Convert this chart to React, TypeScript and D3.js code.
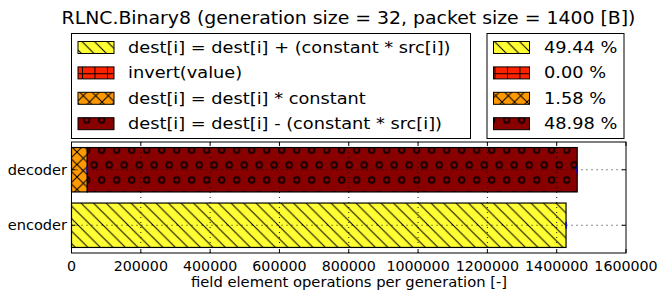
import * as d3 from 'd3';
import React, { useRef, useEffect } from 'react';

const categories = ['encoder', 'decoder'];
const seriesNames = [
  'dest[i] = dest[i] + (constant * src[i])',
  'invert(value)',
  'dest[i] = dest[i] * constant',
  'dest[i] = dest[i] - (constant * src[i])',
];
const seriesColors = ['#ffff33', '#ff2200', '#ff9900', '#880000'];
const seriesHatch = ['diag', 'plus', 'cross', 'circle'];
// values per category, one per series
const encoderValues = [1427000, 0, 0, 0];
const decoderValues = [0, 0, 45600, 1413600];
const encoderErrors = [700, 0, 0, 0];
const decoderErrors = [0, 0, 600, 1600];
const xTicks = [0, 200000, 400000, 600000, 800000, 1000000, 1200000, 1400000, 1600000];

const W = 660;
const H = 292;

export default function App() {
  const svgRef = useRef<SVGSVGElement>(null);

  useEffect(() => {
    const svg = d3.select(svgRef.current);
    svg.selectAll('*').remove();
    const font = 'DejaVu Sans, sans-serif';

    // text with a slight horizontal stretch (the reference font runs wide)
    const label = (sel: any, tx: number, ty: number, s: string, size: number, sx: number, anchor = 'start') =>
      sel.append('text').attr('transform', `translate(${tx},${ty}) scale(${sx},1)`)
        .attr('text-anchor', anchor).attr('font-family', font).attr('font-size', size).text(s);

    const left = 71.5, right = 626, top = 142, bottom = 253;
    const x = d3.scaleLinear().domain([0, 1600000]).range([left, right]);
    const y = d3.scaleLinear().domain([-0.5, 1.5]).range([bottom, top]);
    const barH = (y(0) - y(0.8));

    // hatch patterns
    const defs = svg.append('defs');
    const p = 12.5;
    const diag = defs.append('pattern').attr('id', 'diag').attr('patternUnits', 'userSpaceOnUse')
      .attr('width', p).attr('height', p).attr('x', 3).attr('y', 0);
    diag.append('path').attr('d', `M0,0L${p},${p}M${-p / 2},${p / 2}L${p / 2},${p * 1.5}M${p / 2},${-p / 2}L${p * 1.5},${p / 2}`)
      .attr('stroke', '#000').attr('stroke-width', 1);
    const plus = defs.append('pattern').attr('id', 'plus').attr('patternUnits', 'userSpaceOnUse')
      .attr('width', p).attr('height', p).attr('x', 1.2).attr('y', 5);
    plus.append('path').attr('d', `M0,${p / 2}H${p}M${p / 2},0V${p}`).attr('stroke', '#000').attr('stroke-width', 1);
    const cross = defs.append('pattern').attr('id', 'cross').attr('patternUnits', 'userSpaceOnUse')
      .attr('width', p).attr('height', p).attr('x', 2).attr('y', 2);
    cross.append('path').attr('d', `M0,0L${p},${p}M${p},0L0,${p}`).attr('stroke', '#000').attr('stroke-width', 1);
    const circ = defs.append('pattern').attr('id', 'circle').attr('patternUnits', 'userSpaceOnUse')
      .attr('width', 15).attr('height', 30).attr('x', 4.2).attr('y', 142.5);
    [[7.5, 7.5], [0, 22.5], [15, 22.5]].forEach(([cx, cy]) => {
      circ.append('circle').attr('cx', cx).attr('cy', cy).attr('r', 2.9)
        .attr('fill', 'none').attr('stroke', '#000').attr('stroke-width', 1.5);
    });

    svg.append('rect').attr('width', W).attr('height', H).attr('fill', '#fff');

    // title
    label(svg, 348.5, 24, 'RLNC.Binary8 (generation size = 32, packet size = 1400 [B])', 17, 1.11, 'middle');

    // bars
    const rows = [encoderValues, decoderValues];
    const errs = [encoderErrors, decoderErrors];
    const g = svg.append('g');
    rows.forEach((vals, ci) => {
      let acc = 0;
      vals.forEach((v, si) => {
        if (v <= 0) return;
        const x0 = x(acc), x1 = x(acc + v);
        [seriesColors[si], `url(#${seriesHatch[si]})`].forEach((fill, k) => {
          g.append('rect').attr('x', x0).attr('y', y(ci) - barH / 2)
            .attr('width', x1 - x0).attr('height', barH).attr('fill', fill)
            .attr('stroke', k === 1 ? '#000' : 'none').attr('stroke-width', 1.2);
        });
        acc += v;
      });
    });

    // grid (drawn over bars)
    const grid = svg.append('g').attr('stroke', '#000').attr('stroke-width', 0.9).attr('stroke-dasharray', '1,4');
    xTicks.slice(1, -1).forEach((t) => {
      grid.append('line').attr('x1', x(t)).attr('x2', x(t)).attr('y1', top).attr('y2', bottom);
    });
    categories.forEach((_, ci) => {
      grid.append('line').attr('x1', left).attr('x2', right).attr('y1', y(ci)).attr('y2', y(ci));
    });

    // error bars
    rows.forEach((vals, ci) => {
      let acc = 0;
      vals.forEach((v, si) => {
        if (v <= 0) return;
        acc += v;
        const e = errs[ci][si];
        const w = Math.max(x(acc + e) - x(acc - e), 1.5);
        svg.append('rect').attr('x', (x(acc) - w / 2)).attr('y', y(ci) - 3.5)
          .attr('width', w).attr('height', 7).attr('fill', '#0000ff');
      });
    });

    // frame and ticks
    svg.append('rect').attr('x', left).attr('y', top).attr('width', right - left).attr('height', bottom - top)
      .attr('fill', 'none').attr('stroke', '#000').attr('stroke-width', 1);
    const ticks = svg.append('g').attr('stroke', '#000').attr('stroke-width', 1);
    xTicks.forEach((t) => {
      ticks.append('line').attr('x1', x(t)).attr('x2', x(t)).attr('y1', bottom).attr('y2', bottom - 4);
      ticks.append('line').attr('x1', x(t)).attr('x2', x(t)).attr('y1', top).attr('y2', top + 4);
      label(svg, x(t), 270.5, String(t), 13.8, 1.03, 'middle');
    });
    categories.forEach((c, ci) => {
      ticks.append('line').attr('x1', left).attr('x2', left + 4).attr('y1', y(ci)).attr('y2', y(ci));
      ticks.append('line').attr('x1', right).attr('x2', right - 4).attr('y1', y(ci)).attr('y2', y(ci));
      label(svg, 67, y(ci) + 5.2, c, 14, 1.04, 'end');
    });
    label(svg, 349, 286.5, 'field element operations per generation [-]', 14.2, 1.04, 'middle');

    // legends
    const total = d3.sum(encoderValues) + d3.sum(decoderValues);
    const pct = seriesNames.map((_, si) => ((encoderValues[si] + decoderValues[si]) / total * 100).toFixed(2) + ' %');
    const legends = [
      { x0: 71.5, w: 399, px: 78, tx: 128, labels: seriesNames },
      { x0: 487, w: 137, px: 493.5, tx: 544, labels: pct },
    ];
    legends.forEach((lg) => {
      const lgG = svg.append('g');
      lgG.append('rect').attr('x', lg.x0).attr('y', 33.5).attr('width', lg.w).attr('height', 105)
        .attr('fill', '#fff').attr('stroke', '#000').attr('stroke-width', 1);
      lg.labels.forEach((lab, si) => {
        const cy = 47.5 + si * 25.4;
        [seriesColors[si], `url(#${seriesHatch[si]})`].forEach((fill, k) => {
          lgG.append('rect').attr('x', lg.px).attr('y', cy - 6).attr('width', 36).attr('height', 12)
            .attr('fill', fill).attr('stroke', k === 1 ? '#000' : 'none').attr('stroke-width', 1);
        });
        label(lgG, lg.tx, cy + 5.5, lab, 16, 1.11);
      });
    });
  }, []);

  return (
    <svg ref={svgRef} width={W} height={H}
      style={{ position: 'absolute', left: 0, top: 0, display: 'block' }} />
  );
}
